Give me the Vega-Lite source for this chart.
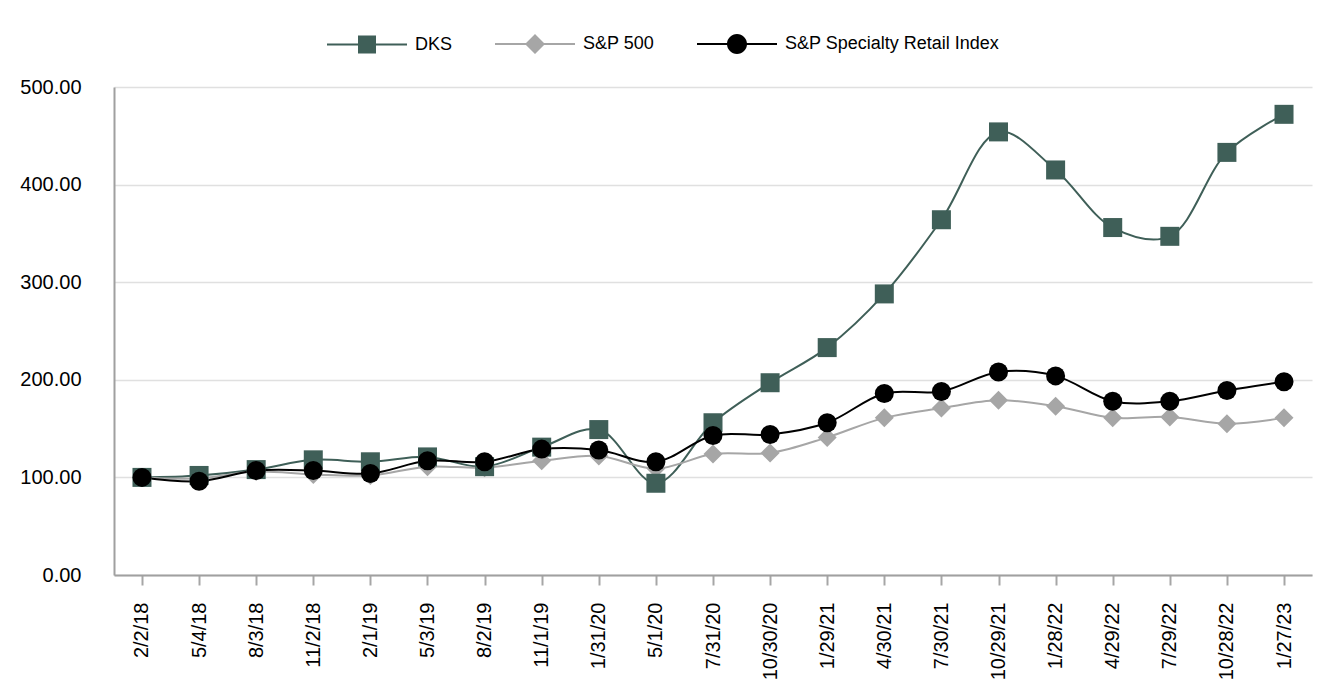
{
  "$schema": "https://vega.github.io/schema/vega-lite/v6.json",
  "autosize": {"type": "none"},
  "width": 1198,
  "height": 488,
  "padding": {"left": 114, "top": 87, "right": 20, "bottom": 117},
  "background": "white",
  "config": {
    "view": {"stroke": null},
    "font": "Liberation Sans",
    "axis": {"labelFont": "Liberation Sans", "labelColor": "black", "title": null}
  },
  "data": {
    "values": [
      {"date": "2/2/18", "series": "DKS", "value": 100},
      {"date": "5/4/18", "series": "DKS", "value": 102},
      {"date": "8/3/18", "series": "DKS", "value": 108},
      {"date": "11/2/18", "series": "DKS", "value": 118},
      {"date": "2/1/19", "series": "DKS", "value": 116},
      {"date": "5/3/19", "series": "DKS", "value": 121},
      {"date": "8/2/19", "series": "DKS", "value": 111},
      {"date": "11/1/19", "series": "DKS", "value": 131},
      {"date": "1/31/20", "series": "DKS", "value": 149},
      {"date": "5/1/20", "series": "DKS", "value": 94},
      {"date": "7/31/20", "series": "DKS", "value": 156},
      {"date": "10/30/20", "series": "DKS", "value": 197},
      {"date": "1/29/21", "series": "DKS", "value": 233},
      {"date": "4/30/21", "series": "DKS", "value": 288},
      {"date": "7/30/21", "series": "DKS", "value": 364},
      {"date": "10/29/21", "series": "DKS", "value": 454},
      {"date": "1/28/22", "series": "DKS", "value": 415},
      {"date": "4/29/22", "series": "DKS", "value": 356},
      {"date": "7/29/22", "series": "DKS", "value": 347},
      {"date": "10/28/22", "series": "DKS", "value": 433},
      {"date": "1/27/23", "series": "DKS", "value": 472},
      {"date": "2/2/18", "series": "S&P 500", "value": 100},
      {"date": "5/4/18", "series": "S&P 500", "value": 99},
      {"date": "8/3/18", "series": "S&P 500", "value": 106},
      {"date": "11/2/18", "series": "S&P 500", "value": 103},
      {"date": "2/1/19", "series": "S&P 500", "value": 102},
      {"date": "5/3/19", "series": "S&P 500", "value": 111},
      {"date": "8/2/19", "series": "S&P 500", "value": 110},
      {"date": "11/1/19", "series": "S&P 500", "value": 117},
      {"date": "1/31/20", "series": "S&P 500", "value": 122},
      {"date": "5/1/20", "series": "S&P 500", "value": 109},
      {"date": "7/31/20", "series": "S&P 500", "value": 124},
      {"date": "10/30/20", "series": "S&P 500", "value": 125},
      {"date": "1/29/21", "series": "S&P 500", "value": 141},
      {"date": "4/30/21", "series": "S&P 500", "value": 161},
      {"date": "7/30/21", "series": "S&P 500", "value": 171},
      {"date": "10/29/21", "series": "S&P 500", "value": 179},
      {"date": "1/28/22", "series": "S&P 500", "value": 173},
      {"date": "4/29/22", "series": "S&P 500", "value": 161},
      {"date": "7/29/22", "series": "S&P 500", "value": 162},
      {"date": "10/28/22", "series": "S&P 500", "value": 155},
      {"date": "1/27/23", "series": "S&P 500", "value": 161},
      {"date": "2/2/18", "series": "S&P Specialty Retail Index", "value": 100},
      {"date": "5/4/18", "series": "S&P Specialty Retail Index", "value": 96},
      {"date": "8/3/18", "series": "S&P Specialty Retail Index", "value": 107},
      {"date": "11/2/18", "series": "S&P Specialty Retail Index", "value": 107},
      {"date": "2/1/19", "series": "S&P Specialty Retail Index", "value": 104},
      {"date": "5/3/19", "series": "S&P Specialty Retail Index", "value": 117},
      {"date": "8/2/19", "series": "S&P Specialty Retail Index", "value": 116},
      {"date": "11/1/19", "series": "S&P Specialty Retail Index", "value": 129},
      {"date": "1/31/20", "series": "S&P Specialty Retail Index", "value": 128},
      {"date": "5/1/20", "series": "S&P Specialty Retail Index", "value": 116},
      {"date": "7/31/20", "series": "S&P Specialty Retail Index", "value": 143},
      {"date": "10/30/20", "series": "S&P Specialty Retail Index", "value": 144},
      {"date": "1/29/21", "series": "S&P Specialty Retail Index", "value": 156},
      {"date": "4/30/21", "series": "S&P Specialty Retail Index", "value": 186},
      {"date": "7/30/21", "series": "S&P Specialty Retail Index", "value": 188},
      {"date": "10/29/21", "series": "S&P Specialty Retail Index", "value": 208},
      {"date": "1/28/22", "series": "S&P Specialty Retail Index", "value": 204},
      {"date": "4/29/22", "series": "S&P Specialty Retail Index", "value": 178},
      {"date": "7/29/22", "series": "S&P Specialty Retail Index", "value": 178},
      {"date": "10/28/22", "series": "S&P Specialty Retail Index", "value": 189},
      {"date": "1/27/23", "series": "S&P Specialty Retail Index", "value": 198}
    ]
  },
  "encoding": {
    "x": {
      "field": "date",
      "type": "ordinal",
      "sort": null,
      "scale": {"type": "point", "padding": 0.49},
      "axis": {
        "labelAngle": -90,
        "labelFontSize": 20,
        "labelPadding": 17,
        "domainColor": "#a0a0a0",
        "domainWidth": 2,
        "tickColor": "#a6a6a6",
        "tickWidth": 2,
        "tickSize": 10,
        "grid": false
      }
    },
    "y": {
      "field": "value",
      "type": "quantitative",
      "scale": {"domain": [0, 500], "nice": false},
      "axis": {
        "values": [0, 100, 200, 300, 400, 500],
        "format": ".2f",
        "labelFontSize": 20,
        "labelPadding": 33,
        "ticks": false,
        "domainColor": "#a0a0a0",
        "domainWidth": 2,
        "gridColor": "#e0e0e0",
        "gridWidth": 1.5
      }
    }
  },
  "layer": [
    {
      "mark": {"type": "point", "filled": true, "size": 0},
      "encoding": {
        "color": {
          "field": "series",
          "type": "nominal",
          "scale": {
            "domain": ["DKS", "S&P 500", "S&P Specialty Retail Index"],
            "range": ["#3f5f58", "#a6a6a6", "#000000"]
          },
          "legend": {
            "orient": "none",
            "direction": "horizontal",
            "legendX": 213,
            "legendY": -83,
            "title": null,
            "padding": 0,
            "symbolSize": 6400,
            "symbolStrokeWidth": 0,
            "symbolOpacity": 1,
            "labelFontSize": 18,
            "labelFont": "Liberation Sans",
            "labelColor": "black",
            "labelLimit": 0,
            "labelOffset": 8,
            "columnPadding": 42
          }
        },
        "shape": {
          "field": "series",
          "type": "nominal",
          "scale": {
            "domain": ["DKS", "S&P 500", "S&P Specialty Retail Index"],
            "range": [
              "M-1,-0.025H-0.2V0.025H-1ZM0.2,-0.025H1V0.025H0.2ZM-0.225,-0.225H0.225V0.225H-0.225Z",
              "M-1,-0.025H-0.2V0.025H-1ZM0.2,-0.025H1V0.025H0.2ZM0,-0.25L0.25,0L0,0.25L-0.25,0Z",
              "M-1,-0.025H-0.2V0.025H-1ZM0.2,-0.025H1V0.025H0.2ZM0.25,0A0.25,0.25,0,1,1,-0.25,0A0.25,0.25,0,1,1,0.25,0Z"
            ]
          },
          "legend": {
            "orient": "none",
            "direction": "horizontal",
            "legendX": 213,
            "legendY": -83,
            "title": null,
            "padding": 0,
            "symbolSize": 6400,
            "symbolStrokeWidth": 0,
            "symbolOpacity": 1,
            "labelFontSize": 18,
            "labelFont": "Liberation Sans",
            "labelColor": "black",
            "labelLimit": 0,
            "labelOffset": 8,
            "columnPadding": 42
          }
        }
      }
    },
    {
      "mark": {"type": "line", "interpolate": "catmull-rom", "strokeWidth": 2},
      "encoding": {
        "order": {"value": null},
        "stroke": {
          "field": "series",
          "type": "nominal",
          "legend": null,
          "scale": {
            "domain": ["DKS", "S&P 500", "S&P Specialty Retail Index"],
            "range": ["#3f5f58", "#a6a6a6", "#000000"]
          }
        }
      }
    },
    {
      "transform": [{"filter": "datum.series === 'S&P 500'"}],
      "mark": {"type": "point", "shape": "diamond", "filled": true, "size": 361, "color": "#a6a6a6", "opacity": 1}
    },
    {
      "transform": [{"filter": "datum.series === 'DKS'"}],
      "mark": {"type": "point", "shape": "square", "filled": true, "size": 361, "color": "#3f5f58", "opacity": 1}
    },
    {
      "transform": [{"filter": "datum.series === 'S&P Specialty Retail Index'"}],
      "mark": {"type": "point", "shape": "circle", "filled": true, "size": 361, "color": "#000000", "opacity": 1}
    }
  ]
}
